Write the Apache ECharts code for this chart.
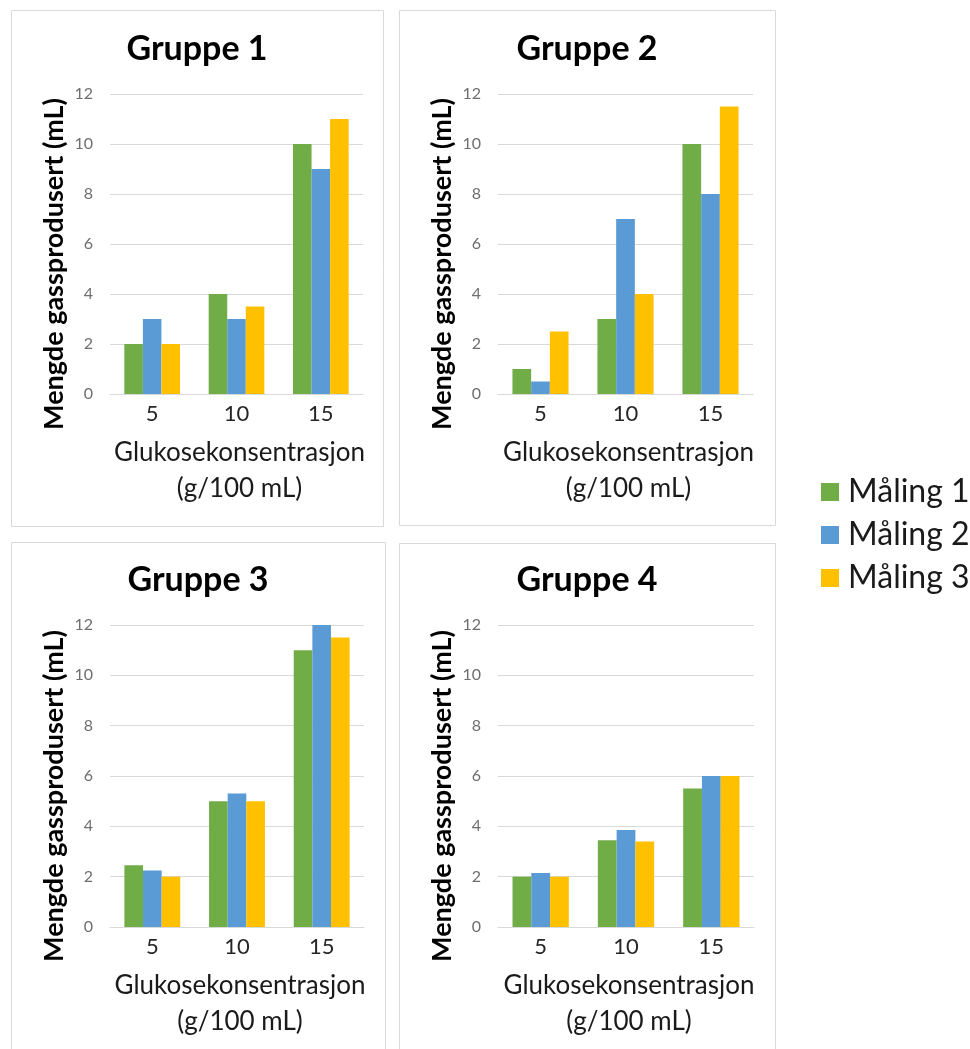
<!DOCTYPE html>
<html>
<head>
<meta charset="utf-8">
<title>Gassproduksjon – Gruppe 1–4</title>
<script src="https://cdn.jsdelivr.net/npm/echarts@6/dist/echarts.min.js"></script>
<style>
  html, body { margin: 0; padding: 0; background: #ffffff; }
  #chart { width: 970px; height: 1049px; }
</style>
</head>
<body>
<div id="chart"></div>
<script>
// Glucose concentrations (g/100 mL) on the category axis
const categories = ['5', '10', '15'];
const seriesNames = ['Måling 1', 'Måling 2', 'Måling 3'];
const groupTitles = ['Gruppe 1', 'Gruppe 2', 'Gruppe 3', 'Gruppe 4'];

// Gas produced (mL) per group and measurement
const gruppe1Maling1 = [2, 4, 10];
const gruppe1Maling2 = [3, 3, 9];
const gruppe1Maling3 = [2, 3.5, 11];

const gruppe2Maling1 = [1, 3, 10];
const gruppe2Maling2 = [0.5, 7, 8];
const gruppe2Maling3 = [2.5, 4, 11.5];

const gruppe3Maling1 = [2.45, 5, 11];
const gruppe3Maling2 = [2.25, 5.3, 12];
const gruppe3Maling3 = [2, 5, 11.5];

const gruppe4Maling1 = [2, 3.45, 5.5];
const gruppe4Maling2 = [2.15, 3.85, 6];
const gruppe4Maling3 = [2, 3.4, 6];

const groupData = [
  [gruppe1Maling1, gruppe1Maling2, gruppe1Maling3],
  [gruppe2Maling1, gruppe2Maling2, gruppe2Maling3],
  [gruppe3Maling1, gruppe3Maling2, gruppe3Maling3],
  [gruppe4Maling1, gruppe4Maling2, gruppe4Maling3]
];

const colors = ['#70AD47', '#5B9BD5', '#FFC000'];
const FONT = 'Lato, "Open Sans", sans-serif';

// Panel frames and plot areas (pixels)
const panels = [
  { x: 11,  y: 10,  w: 372, h: 516, grid: { left: 110, top: 94,  width: 253, height: 300 } },
  { x: 399, y: 10,  w: 376, h: 515, grid: { left: 498, top: 94,  width: 255, height: 300 } },
  { x: 11,  y: 542, w: 374, h: 530, grid: { left: 110, top: 625, width: 254, height: 302 } },
  { x: 399, y: 543, w: 376, h: 530, grid: { left: 498, top: 625, width: 256, height: 302 } }
];

const chart = echarts.init(document.getElementById('chart'), null, { renderer: 'canvas' });

const grids = [], xAxes = [], yAxes = [], titles = [], series = [], frames = [];

panels.forEach((p, i) => {
  frames.push({
    type: 'rect',
    z: -1,
    shape: { x: p.x + 0.5, y: p.y + 0.5, width: p.w, height: p.h },
    style: { fill: '#ffffff', stroke: '#d9d9d9', lineWidth: 1 }
  });

  grids.push(Object.assign({ containLabel: false }, p.grid));

  titles.push({
    text: groupTitles[i],
    left: p.x + p.w / 2,
    top: p.grid.top - 62,
    textAlign: 'center',
    padding: 0,
    textStyle: { fontFamily: FONT, fontSize: 34, fontWeight: 'bold', color: '#000000' }
  });

  xAxes.push({
    type: 'category',
    gridIndex: i,
    data: categories,
    axisTick: { show: false },
    axisLine: { lineStyle: { color: '#d9d9d9', width: 1 } },
    axisLabel: { fontFamily: FONT, fontSize: 22, color: '#262626', margin: 9 },
    name: 'Glukosekonsentrasjon\n(g/100 mL)',
    nameLocation: 'middle',
    nameGap: 41,
    nameTextStyle: { fontFamily: FONT, fontSize: 26, color: '#1a1a1a', lineHeight: 36, padding: [0, 0, 0, 6] }
  });

  yAxes.push({
    type: 'value',
    gridIndex: i,
    min: 0,
    max: 12,
    interval: 2,
    axisLine: { show: false },
    axisTick: { show: false },
    splitLine: { lineStyle: { color: '#d9d9d9', width: 1 } },
    axisLabel: { fontFamily: FONT, fontSize: 16, color: '#6e6e6e', margin: 17 },
    name: 'Mengde gassprodusert (mL)',
    nameLocation: 'middle',
    nameRotate: 90,
    nameGap: 42,
    nameTextStyle: { fontFamily: FONT, fontSize: 27, fontWeight: 'bold', color: '#000000', padding: [0, 40, 0, 0] }
  });

  groupData[i].forEach((values, k) => {
    series.push({
      type: 'bar',
      name: seriesNames[k],
      xAxisIndex: i,
      yAxisIndex: i,
      data: values,
      barGap: '0%',
      barCategoryGap: '34%',
      itemStyle: { color: colors[k] },
      emphasis: { disabled: true }
    });
  });
});

chart.setOption({
  animation: false,
  color: colors,
  title: titles,
  grid: grids,
  xAxis: xAxes,
  yAxis: yAxes,
  legend: {
    data: seriesNames,
    orient: 'vertical',
    left: 821,
    top: 476,
    padding: 0,
    itemWidth: 18,
    itemHeight: 18,
    itemGap: 11,
    icon: 'rect',
    textStyle: { fontFamily: FONT, fontSize: 32, color: '#1a1a1a', padding: [0, 0, 0, 4] }
  },
  graphic: frames,
  series: series
});
</script>
</body>
</html>
